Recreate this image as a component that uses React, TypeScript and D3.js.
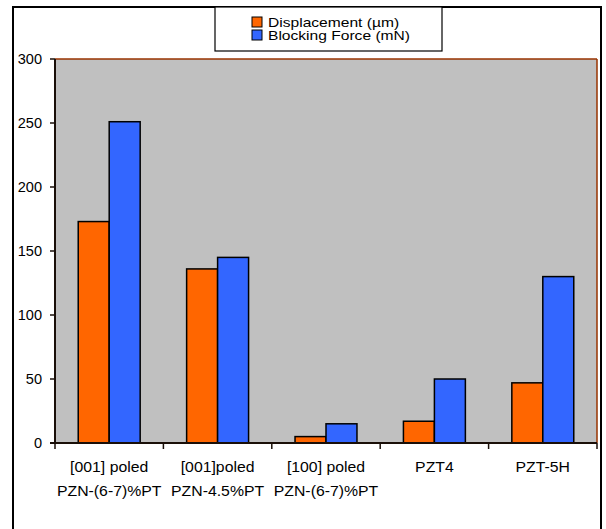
import React from "react";
import * as d3 from "d3";

const categories: string[][] = [
  ["[001] poled", "PZN-(6-7)%PT"],
  ["[001]poled", "PZN-4.5%PT"],
  ["[100] poled", "PZN-(6-7)%PT"],
  ["PZT4"],
  ["PZT-5H"],
];
const displacement = [173, 136, 5, 17, 47];
const blockingForce = [251, 145, 15, 50, 130];
const yTicks = [0, 50, 100, 150, 200, 250, 300];
const seriesNames = ["Displacement (µm)", "Blocking Force (mN)"];
const seriesColors = ["#FF6600", "#3366FF"];

export default function App() {
  const W = 606, H = 529;
  const left = 55, right = 597, top = 59, bottom = 443;
  const x = d3.scaleBand<number>().domain(d3.range(categories.length)).range([left, right]);
  const y = d3.scaleLinear().domain([0, 300]).range([bottom, top]);
  const bw = x.bandwidth();
  const barW = bw / 3.5;
  const inner = d3.scaleBand<number>().domain([0, 1]).range([0, barW * 2]);
  const series = [displacement, blockingForce];
  const font = "Liberation Sans, Arial, sans-serif";
  return (
    <svg width={W} height={H} style={{ position: "absolute", left: 0, top: 0 }}>
      <rect x={0} y={0} width={W} height={H} fill="#fff" />
      <rect x={13} y={7} width={588} height={530} fill="#fff" stroke="#000" strokeWidth={2} />
      <rect x={left} y={top} width={right - left} height={bottom - top} fill="#C0C0C0" />
      <line x1={left} x2={right} y1={top} y2={top} stroke="#993300" strokeWidth={1.5} />
      <line x1={right} x2={right} y1={top} y2={bottom} stroke="#993300" strokeWidth={1.5} />
      {series.map((vals, si) =>
        vals.map((v, i) => (
          <rect
            key={`${si}-${i}`}
            x={(x(i) as number) + barW * 0.75 + (inner(si) as number)}
            y={y(v)}
            width={barW}
            height={bottom - y(v)}
            fill={seriesColors[si]}
            stroke="#000"
            strokeWidth={1.5}
          />
        ))
      )}
      <line x1={left} x2={left} y1={top} y2={bottom} stroke="#1a0f08" strokeWidth={2} />
      <line x1={left - 5} x2={right} y1={bottom} y2={bottom} stroke="#1a0f08" strokeWidth={2} />
      {yTicks.map((t) => (
        <g key={t}>
          <line x1={left - 5} x2={left} y1={y(t)} y2={y(t)} stroke="#1a0f08" strokeWidth={1.5} />
          <g transform={`translate(42,${y(t)}) scale(1.04,1)`}>
            <text x={0} y={0} dy="0.35em" textAnchor="end" fontFamily={font} fontSize={14} fill="#000">
              {t}
            </text>
          </g>
        </g>
      ))}
      {d3.range(categories.length + 1).map((i) => {
        const xx = i < categories.length ? (x(i) as number) : right;
        return <line key={i} x1={xx} x2={xx} y1={bottom} y2={bottom + 6} stroke="#1a0f08" strokeWidth={1.5} />;
      })}
      {categories.map((lines, i) => (
        <g key={i} transform={`translate(${(x(i) as number) + bw / 2},0) scale(1.13,1)`}>
          <text textAnchor="middle" fontFamily={font} fontSize={14} fill="#000">
            {lines.map((l, j) => (
              <tspan key={j} x={0} y={472 + j * 24}>
                {l}
              </tspan>
            ))}
          </text>
        </g>
      ))}
      <rect x={215} y={7} width={227} height={44} fill="#fff" stroke="#000" strokeWidth={1.2} />
      {seriesNames.map((n, i) => (
        <g key={n}>
          <rect x={252} y={17 + i * 13} width={10} height={10} fill={seriesColors[i]} stroke="#000" strokeWidth={1} />
          <g transform={`translate(268,${22 + i * 13}) scale(1.2,1)`}>
            <text x={0} y={0} dy="0.35em" fontFamily={font} fontSize={13} fill="#000">
              {n}
            </text>
          </g>
        </g>
      ))}
    </svg>
  );
}
